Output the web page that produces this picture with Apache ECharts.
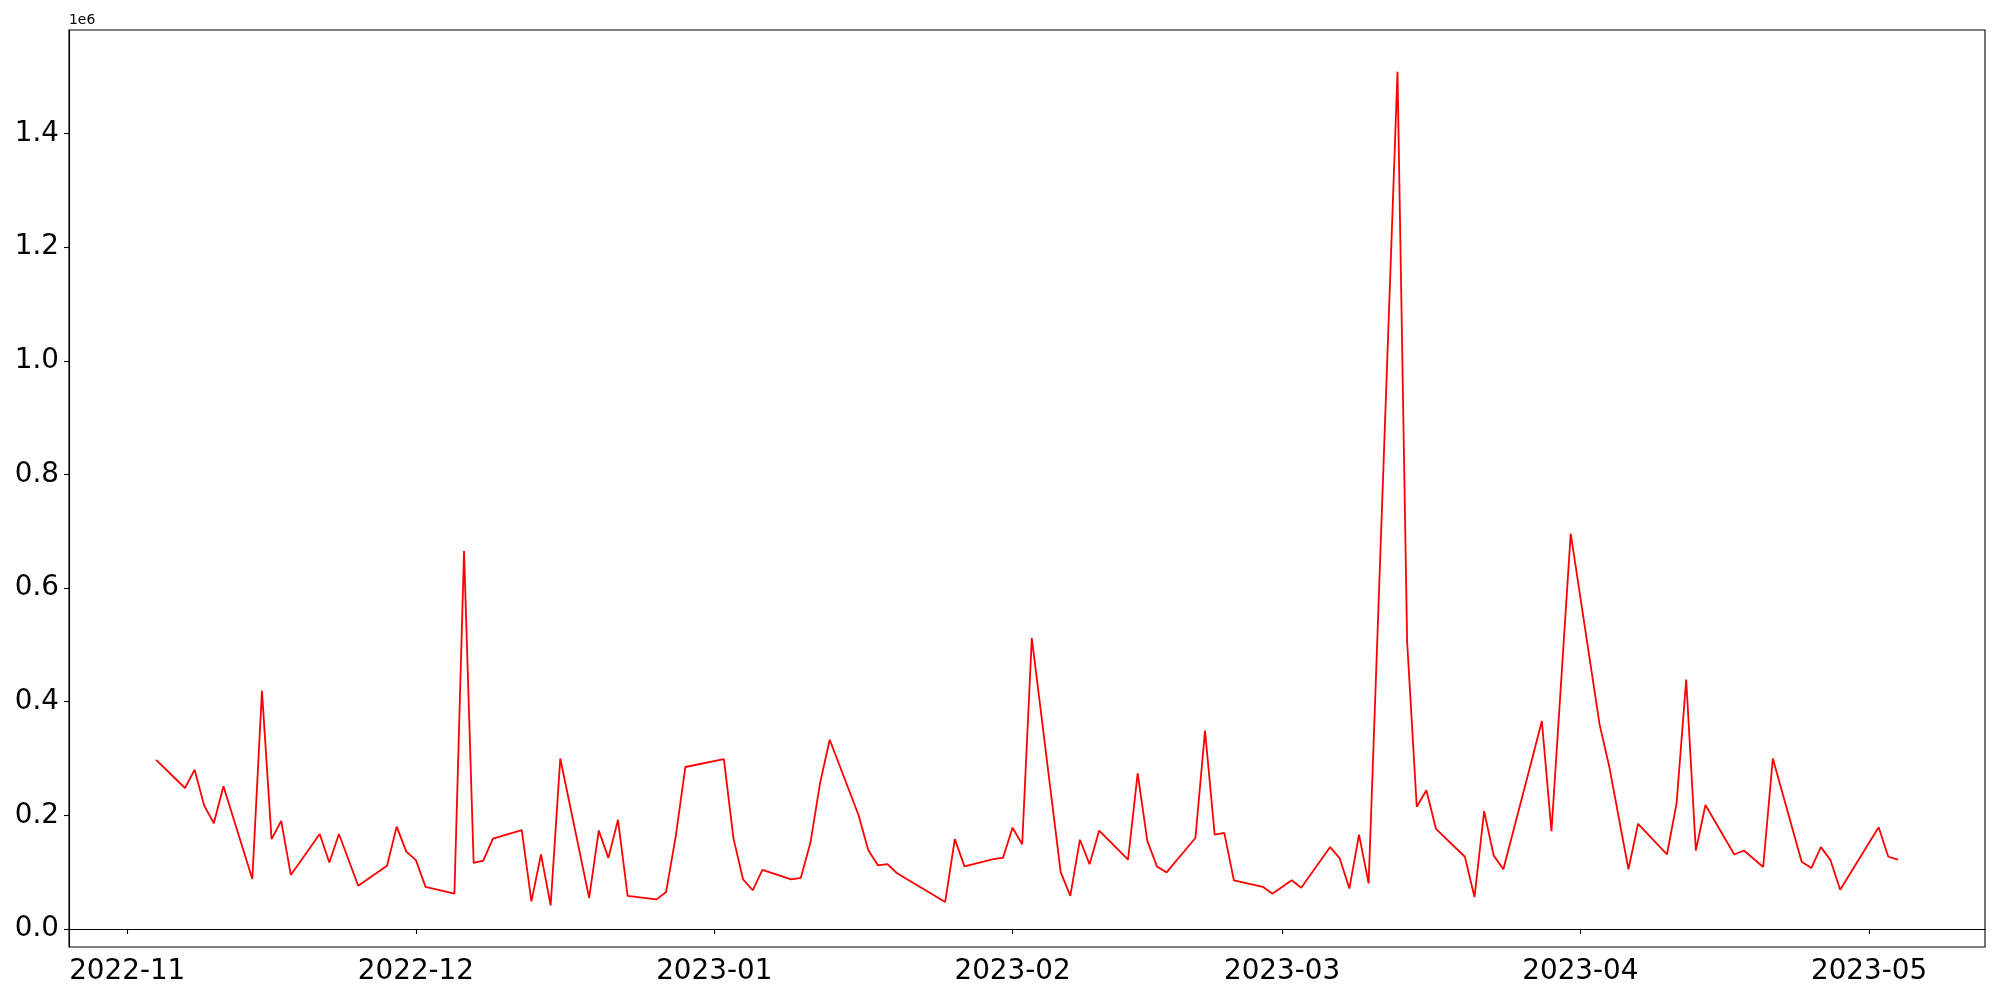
<!DOCTYPE html>
<html><head><meta charset="utf-8">
<script src="https://cdn.jsdelivr.net/npm/echarts@6/dist/echarts.min.js"></script>
<style>html,body{margin:0;padding:0;background:#fff}#c{width:2000px;height:1000px}</style>
</head><body><div id="c"></div>
<script>
const dates = [
'2022-11-04','2022-11-07','2022-11-08','2022-11-09','2022-11-10','2022-11-11','2022-11-14','2022-11-15','2022-11-16','2022-11-17','2022-11-18',
'2022-11-21','2022-11-22','2022-11-23','2022-11-25','2022-11-28','2022-11-29','2022-11-30','2022-12-01','2022-12-02',
'2022-12-05','2022-12-06','2022-12-07','2022-12-08','2022-12-09','2022-12-12','2022-12-13','2022-12-14','2022-12-15','2022-12-16',
'2022-12-19','2022-12-20','2022-12-21','2022-12-22','2022-12-23','2022-12-26','2022-12-27','2022-12-28','2022-12-29',
'2023-01-02','2023-01-03','2023-01-04','2023-01-05','2023-01-06','2023-01-09','2023-01-10','2023-01-11','2023-01-12','2023-01-13',
'2023-01-16','2023-01-17','2023-01-18','2023-01-19','2023-01-20','2023-01-25','2023-01-26','2023-01-27',
'2023-01-30','2023-01-31','2023-02-01','2023-02-02','2023-02-03','2023-02-06','2023-02-07','2023-02-08','2023-02-09','2023-02-10',
'2023-02-13','2023-02-14','2023-02-15','2023-02-16','2023-02-17','2023-02-20','2023-02-21','2023-02-22','2023-02-23','2023-02-24',
'2023-02-27','2023-02-28','2023-03-02','2023-03-03','2023-03-06','2023-03-07','2023-03-08','2023-03-09','2023-03-10',
'2023-03-13','2023-03-14','2023-03-15','2023-03-16','2023-03-17','2023-03-20','2023-03-21','2023-03-22','2023-03-23','2023-03-24',
'2023-03-27','2023-03-28','2023-03-29','2023-03-31','2023-04-03','2023-04-04','2023-04-06','2023-04-07',
'2023-04-10','2023-04-11','2023-04-12','2023-04-13','2023-04-14','2023-04-17','2023-04-18','2023-04-20','2023-04-21',
'2023-04-24','2023-04-25','2023-04-26','2023-04-27','2023-04-28','2023-05-02','2023-05-03','2023-05-04'
];
const values = [
297500,248000,280000,217000,186000,251000,88000,419000,158000,190000,95000,
167000,117000,167000,76000,111000,180000,136000,121000,74000,
62000,665000,116000,120000,159000,174000,48500,131000,41500,300000,
54500,173000,125000,192000,58000,52000,65000,163000,285000,
299000,159000,87000,68000,104000,87000,90000,152000,257000,333000,
200000,139000,112000,114000,98000,47500,158000,110000,
123000,125000,178000,149000,512000,100000,58000,157000,114000,173000,
122000,274000,155000,110000,99500,160000,349000,166000,169000,85500,
74000,62000,85500,72500,144000,124000,71000,166000,80000,
1509000,506000,215000,244000,176000,127000,56000,207000,129000,105000,
300000,366000,172000,696000,360000,286000,105000,185000,
131000,221000,439000,138000,218000,131000,138000,109000,300000,
118000,107000,144000,121000,69000,179000,127000,122000
];
const xTickLabels = ['2022-11','2022-12','2023-01','2023-02','2023-03','2023-04','2023-05'];
const yTickLabels = ['0.0','0.2','0.4','0.6','0.8','1.0','1.2','1.4'];
const yScaleLabel = '1e6';

const toTs = s => { const p = s.split('-').map(Number); return Date.UTC(p[0], p[1]-1, p[2] || 1); };
const ts = dates.map(toTs);
const seriesData = ts.map((t, i) => [t, values[i]]);
const xr = ts[ts.length-1] - ts[0];
const xMin = ts[0] - 0.05*xr, xMax = ts[ts.length-1] + 0.05*xr;
const vMin = Math.min(...values), vMax = Math.max(...values);
const yr = vMax - vMin;
const yMin = vMin - 0.05*yr, yMax = vMax + 0.05*yr;
const yTickVals = yTickLabels.map(s => parseFloat(s) * 1e6);
const xTickVals = xTickLabels.map(toTs);
const font = 'DejaVu Sans';

const chart = echarts.init(document.getElementById('c'), null, {renderer: 'canvas'});
chart.setOption({
  animation: false,
  backgroundColor: '#fff',
  grid: {left: 69, right: 15, top: 30, bottom: 53, show: true, borderColor: '#000', borderWidth: 1.1, backgroundColor: 'transparent'},
  xAxis: {
    type: 'value', min: xMin, max: xMax,
    axisLine: {show: true, lineStyle: {color: '#000', width: 1.1}},
    axisTick: {show: true, inside: false, length: 5, lineStyle: {color: '#000', width: 1.1}, customValues: xTickVals},
    axisLabel: {show: true, color: '#000', fontSize: 27.8, fontFamily: font, margin: 11, customValues: xTickVals,
      formatter: v => { const d = new Date(v); return d.getUTCFullYear() + '-' + String(d.getUTCMonth()+1).padStart(2,'0'); }},
    splitLine: {show: false}
  },
  yAxis: {
    type: 'value', min: yMin, max: yMax,
    axisLine: {show: true, lineStyle: {color: '#000', width: 1.1}},
    axisTick: {show: true, inside: false, length: 5, lineStyle: {color: '#000', width: 1.1}, customValues: yTickVals},
    axisLabel: {show: true, color: '#000', fontSize: 27.8, fontFamily: font, margin: 10, customValues: yTickVals,
      formatter: v => (v/1e6).toFixed(1)},
    splitLine: {show: false}
  },
  graphic: [{type: 'text', left: 69, top: 13, style: {text: yScaleLabel, font: '13.9px "DejaVu Sans"', fill: '#000'}}],
  series: [{
    type: 'line', data: seriesData, showSymbol: false, symbol: 'none',
    lineStyle: {color: '#ff0000', width: 1.8}, itemStyle: {color: '#ff0000'}
  }]
});
</script></body></html>
